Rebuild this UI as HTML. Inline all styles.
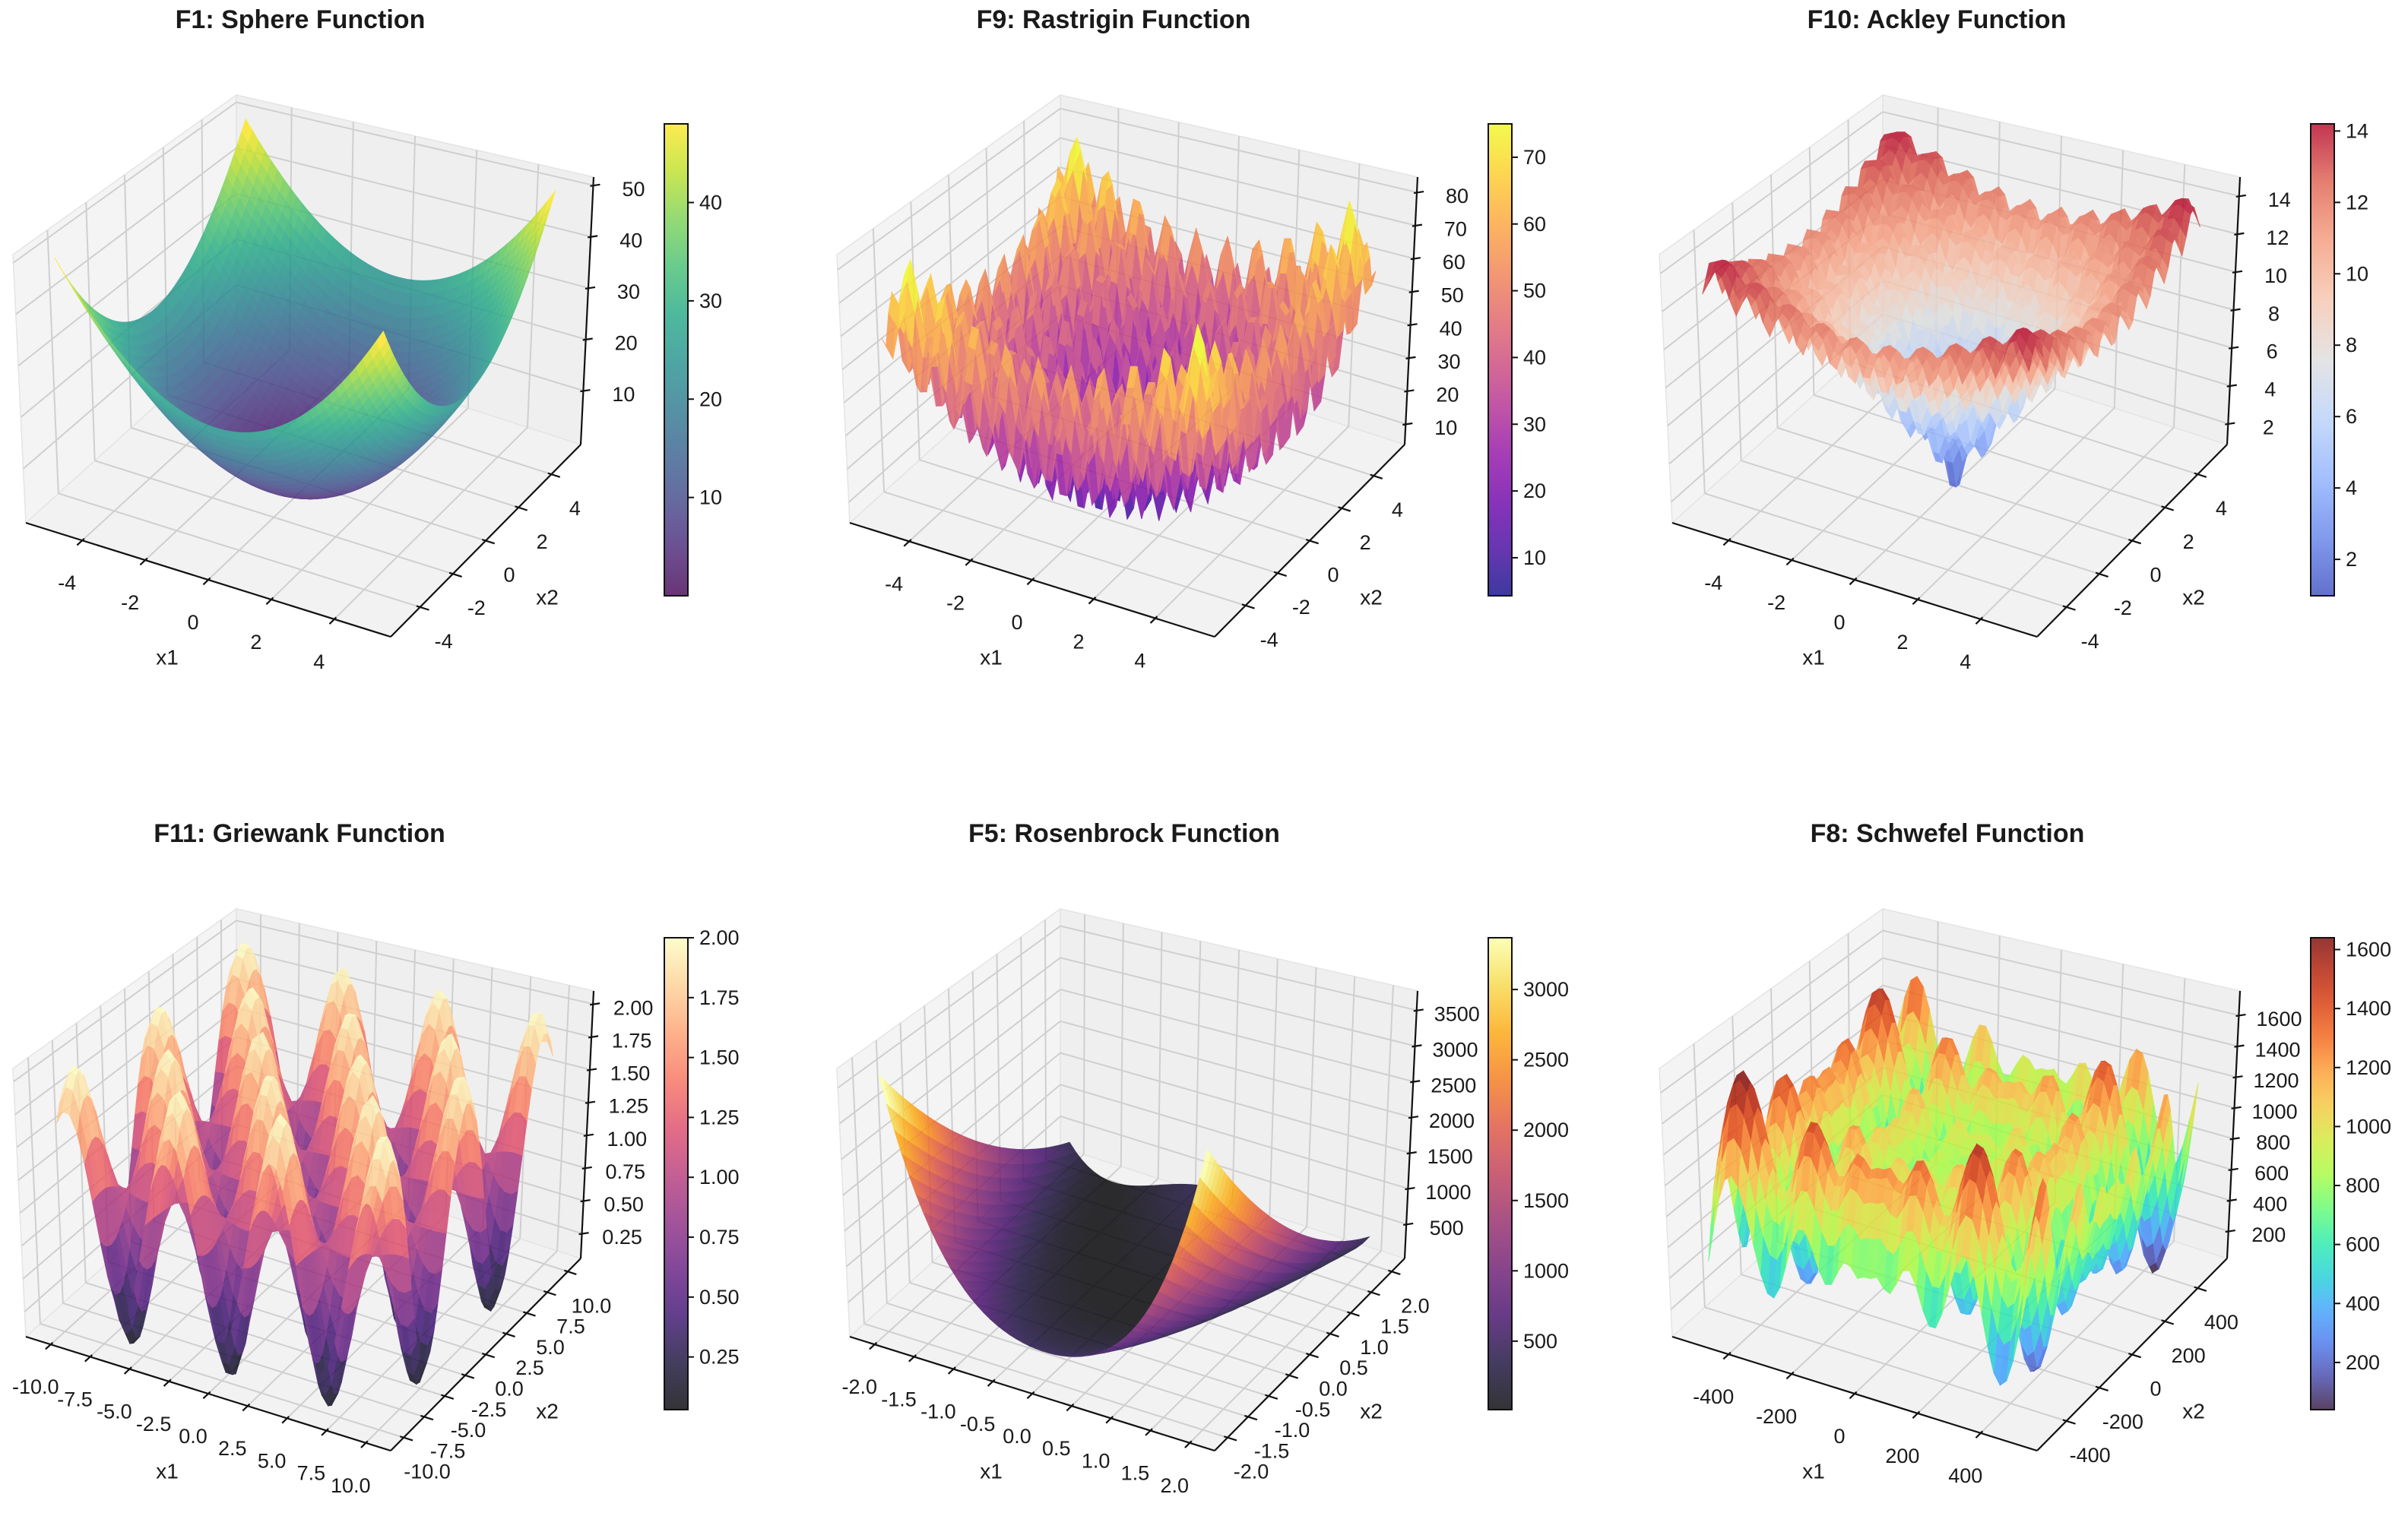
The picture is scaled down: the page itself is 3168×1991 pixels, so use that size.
<!DOCTYPE html>
<html><head><meta charset="utf-8"><style>
html,body{margin:0;padding:0;background:#fff;}
svg{display:block;font-family:"Liberation Sans",Arial,sans-serif;}
</style></head><body>
<svg id="fig" xmlns="http://www.w3.org/2000/svg" width="3168" height="1991" viewBox="0 0 3168 1991"></svg>
<script>
// ---- chart data (top-level arrays) ----
const panelTitles = ["F1: Sphere Function","F9: Rastrigin Function","F10: Ackley Function","F11: Griewank Function","F5: Rosenbrock Function","F8: Schwefel Function"];
const panelKeys = ["sphere","rastrigin","ackley","griewank","rosenbrock","schwefel"];
const xRanges = [[-5,5],[-5.12,5.12],[-5,5],[-10,10],[-2,2],[-500,500]];
const zLimits = [[-0.5,51.6],[3.8,84.6],[0.9,15.0],[0.06,2.10],[20,3771],[23,1758]];
const cLimits = [[0,48],[4.3,75],[0.98,14.2],[0.03,2.0],[13,3368],[40,1640]];
const xTicks1 = [-4,-2,0,2,4];
const xTicksG = [-10,-7.5,-5,-2.5,0,2.5,5,7.5,10];
const xTicksR = [-2,-1.5,-1,-0.5,0,0.5,1,1.5,2];
const xTicksS = [-400,-200,0,200,400];
const zTicksSphere = [10,20,30,40,50];
const zTicksRastrigin = [10,20,30,40,50,60,70,80];
const zTicksAckley = [2,4,6,8,10,12,14];
const zTicksGriewank = [0.25,0.5,0.75,1.0,1.25,1.5,1.75,2.0];
const zTicksRosen = [500,1000,1500,2000,2500,3000,3500];
const zTicksSchwefel = [200,400,600,800,1000,1200,1400,1600];
const cTicksSphere = [10,20,30,40];
const cTicksRastrigin = [10,20,30,40,50,60,70];
const cTicksAckley = [2,4,6,8,10,12,14];
const cTicksGriewank = [0.25,0.5,0.75,1.0,1.25,1.5,1.75,2.0];
const cTicksRosen = [500,1000,1500,2000,2500,3000];
const cTicksSchwefel = [200,400,600,800,1000,1200,1400,1600];

const funcs = {
  sphere:(x,y)=>x*x+y*y,
  rastrigin:(x,y)=>20+(x*x-10*Math.cos(2*Math.PI*x))+(y*y-10*Math.cos(2*Math.PI*y)),
  ackley:(x,y)=>-20*Math.exp(-0.2*Math.sqrt(0.5*(x*x+y*y)))-Math.exp(0.5*(Math.cos(2*Math.PI*x)+Math.cos(2*Math.PI*y)))+Math.E+20,
  griewank:(x,y)=>1+(x*x+y*y)/4000-Math.cos(x)*Math.cos(y/Math.SQRT2),
  rosenbrock:(x,y)=>100*(y-x*x)*(y-x*x)+(1-x)*(1-x),
  schwefel:(x,y)=>418.9829*2-x*Math.sin(Math.sqrt(Math.abs(x)))-y*Math.sin(Math.sqrt(Math.abs(y)))
};
const cmaps = {
 viridis:["#440154","#482475","#414487","#355f8d","#2a788e","#21918c","#22a884","#44bf70","#7ad151","#bddf26","#fde725"],
 plasma:["#0d0887","#41049d","#6a00a8","#8f0da4","#b12a90","#cc4778","#e16462","#f2844b","#fca636","#fcce25","#f0f921"],
 coolwarm:["#3b4cc0","#6282ea","#8db0fe","#b8d0f9","#dddddd","#f5c4ad","#f49a7b","#de604d","#b40426"],
 magma:["#000004","#140e36","#3b0f70","#641a80","#8c2981","#b73779","#de4968","#f7705c","#fe9f6d","#fecf92","#fcfdbf"],
 inferno:["#000004","#160b39","#420a68","#6a176e","#932667","#bc3754","#dd513a","#f37819","#fca50a","#f6d746","#fcffa4"],
 turbo:["#30123b","#4145ab","#4675ed","#39a2fc","#1bcfd4","#24eca6","#61fc6c","#a4fc3b","#d1e834","#f3c63a","#fe9b2d","#f36315","#d93806","#b11901","#7a0403"]
};
const panelCmaps = ["viridis","plasma","coolwarm","magma","inferno","turbo"];
const zTickSets = [zTicksSphere,zTicksRastrigin,zTicksAckley,zTicksGriewank,zTicksRosen,zTicksSchwefel];
const cTickSets = [cTicksSphere,cTicksRastrigin,cTicksAckley,cTicksGriewank,cTicksRosen,cTicksSchwefel];
const xTickSets = [xTicks1,xTicks1,xTicks1,xTicksG,xTicksR,xTicksS];
const titleX = [395,1465,2548,394,1479,2562];

// ---- layout ----
const colOff=[0,1084,2166], rowOff=[0,1071];
const C={"000":[34,688],"100":[514,838],"010":[311,438],"110":[764,585],"001":[17,335],"101":[521,446],"011":[311,125],"111":[781,233]};
const NS="http://www.w3.org/2000/svg";
const svg=document.getElementById("fig");
function P(u,v,w,ox,oy){
  const r=[0,0];
  for(let d=0;d<2;d++){
    const a=C["000"][d]*(1-u)+C["100"][d]*u, b=C["010"][d]*(1-u)+C["110"][d]*u;
    const c=C["001"][d]*(1-u)+C["101"][d]*u, e=C["011"][d]*(1-u)+C["111"][d]*u;
    const lo=a*(1-v)+b*v, hi=c*(1-v)+e*v;
    r[d]=lo*(1-w)+hi*w;
  }
  return [r[0]+ox,r[1]+oy];
}
function hex(h){return [parseInt(h.slice(1,3),16),parseInt(h.slice(3,5),16),parseInt(h.slice(5,7),16)];}
function cmap(name,t){
  const s=cmaps[name]; t=Math.max(0,Math.min(1,t));
  const f=t*(s.length-1), i=Math.min(Math.floor(f),s.length-2), k=f-i;
  const a=hex(s[i]),b=hex(s[i+1]);
  return "rgb("+a.map((v,j)=>Math.round(v+(b[j]-v)*k)).join(",")+")";
}
function make(tag,parent){const el=document.createElementNS(NS,tag);parent.appendChild(el);return el;}
function pts(arr){return arr.map(p=>p[0].toFixed(1)+","+p[1].toFixed(1)).join(" ");}
function fmt(k,v,kind){
  if(k===3) return kind==="x"? v.toFixed(1): v.toFixed(2);
  if(k===4 && kind==="x") return v.toFixed(1);
  return String(v);
}
const defs=make("defs",svg);

for(let k=0;k<6;k++){
  const ox=colOff[k%3], oy=rowOff[Math.floor(k/3)];
  const g=make("g",svg);
  
  
  const xr=xRanges[k], cx=(xr[0]+xr[1])/2, L=(xr[1]-xr[0])/2*1.158;
  const U=x=>(x-(cx-L))/(2*L);
  const zl=zLimits[k], W=z=>(z-zl[0])/(zl[1]-zl[0]);
  // panes
  const panes=[[[0,0,0],[1,0,0],[1,1,0],[0,1,0],"#f2f2f2"],[[0,0,0],[0,1,0],[0,1,1],[0,0,1],"#f4f4f4"],[[0,1,0],[1,1,0],[1,1,1],[0,1,1],"#efefef"]];
  panes.forEach((pn,i)=>{
    const el=make("polygon",g);
    
    
    el.setAttribute("points",pts(pn.slice(0,4).map(c=>P(c[0],c[1],c[2],ox,oy))));
    el.setAttribute("fill",pn[4]);
    el.setAttribute("stroke","#e4e4e4");
    el.setAttribute("stroke-width","1.5");
  });
  // grid lines
  const gl=make("g",g);
  
  
  gl.setAttribute("stroke","#cfcfcf"); gl.setAttribute("stroke-width","2"); gl.setAttribute("fill","none");
  function line(a,b,par){const el=make("line",par);el.setAttribute("x1",a[0]);el.setAttribute("y1",a[1]);el.setAttribute("x2",b[0]);el.setAttribute("y2",b[1]);return el;}
  xTickSets[k].forEach(t=>{
    const u=U(t);
    line(P(u,0,0,ox,oy),P(u,1,0,ox,oy),gl);
    line(P(u,1,0,ox,oy),P(u,1,1,ox,oy),gl);
    line(P(0,u,0,ox,oy),P(1,u,0,ox,oy),gl);
    line(P(0,u,0,ox,oy),P(0,u,1,ox,oy),gl);
  });
  zTickSets[k].forEach(t=>{
    const w=W(t);
    line(P(0,0,w,ox,oy),P(0,1,w,ox,oy),gl);
    line(P(0,1,w,ox,oy),P(1,1,w,ox,oy),gl);
  });
  // surface
  const sg=make("g",g);
  
  
  sg.setAttribute("opacity","0.82");
  const N=50, f=funcs[panelKeys[k]], cl=cLimits[k];
  const xs=[],Z=[];
  for(let i=0;i<N;i++) xs.push(xr[0]+(xr[1]-xr[0])*i/(N-1));
  for(let i=0;i<N;i++){Z.push([]);for(let j=0;j<N;j++) Z[i].push(f(xs[i],xs[j]));}
  const quads=[];
  for(let i=0;i<N-1;i++)for(let j=0;j<N-1;j++){
    const za=(Z[i][j]+Z[i+1][j]+Z[i+1][j+1]+Z[i][j+1])/4;
    const uc=U((xs[i]+xs[i+1])/2), vc=U((xs[j]+xs[j+1])/2);
    quads.push({i,j,za,d:1.732*uc-3*vc+1.5*W(za)});
  }
  quads.sort((a,b)=>a.d-b.d);
  quads.forEach(q=>{
    const {i,j}=q;
    const c=[[i,j],[i+1,j],[i+1,j+1],[i,j+1]].map(([a,b])=>P(U(xs[a]),U(xs[b]),W(Z[a][b]),ox,oy));
    const col=cmap(panelCmaps[k],(q.za-cl[0])/(cl[1]-cl[0]));
    const el=make("polygon",sg);
    
    
    el.setAttribute("points",pts(c));
    el.setAttribute("fill",col);
    el.setAttribute("stroke",col);
    el.setAttribute("stroke-width","0.8");
  });
  // axes
  const ag=make("g",g);
  
  
  ag.setAttribute("stroke","#111"); ag.setAttribute("stroke-width","2.2");
  line(P(0,0,0,ox,oy),P(1,0,0,ox,oy),ag);
  line(P(1,0,0,ox,oy),P(1,1,0,ox,oy),ag);
  line(P(1,1,0,ox,oy),P(1,1,1,ox,oy),ag);
  function text(x,y,s,size,par,anchor,weight){
    const el=make("text",par);el.setAttribute("x",x);el.setAttribute("y",y);
    el.setAttribute("font-size",size);el.setAttribute("text-anchor",anchor||"middle");
    el.setAttribute("dominant-baseline","central");el.setAttribute("fill","#1a1a1a");
    if(weight)el.setAttribute("font-weight",weight);
    el.textContent=s;return el;
  }
  xTickSets[k].forEach(t=>{
    const u=U(t);
    const a=P(u,-0.025,0,ox,oy),b=P(u,0.01,0,ox,oy);
    line(a,b,ag);
    const p=P(u,0,0,ox,oy);
    const tx=text(p[0]-20,p[1]+56,fmt(k,t,"x"),27,g);
    
    
    const a2=P(1.025,u,0,ox,oy),b2=P(0.99,u,0,ox,oy);
    line(a2,b2,ag);
    const p2=P(1,u,0,ox,oy);
    const ty=text(p2[0]+31,p2[1]+45,fmt(k,t,"x"),27,g);
    
    
  });
  zTickSets[k].forEach(t=>{
    const p=P(1,1,W(t),ox,oy);
    line([p[0]-4,p[1]+1],[p[0]+9,p[1]-1],ag);
    const tz=text(p[0]+53,p[1]+5,fmt(k,t,"z"),27,g);
    
    
  });
  const t1=text(220+ox,865+oy,"x1",28,g);
  
  
  const t2=text(720+ox,786+oy,"x2",28,g);
  
  
  const tt=text(titleX[k],26+oy,panelTitles[k],34,g,"middle","bold");
  
  
  // colorbar
  const gid="grad"+k, lg=make("linearGradient",defs);
  lg.setAttribute("id",gid);lg.setAttribute("x1","0");lg.setAttribute("y1","1");lg.setAttribute("x2","0");lg.setAttribute("y2","0");
  for(let s=0;s<=40;s++){const st=make("stop",lg);st.setAttribute("offset",(s/40).toFixed(3));st.setAttribute("stop-color",cmap(panelCmaps[k],s/40));}
  const cb=make("g",g);
  
  
  const cbx=874+ox, cby=163+oy, cbw=31, cbh=621;
  const r=make("rect",cb);
  
  
  r.setAttribute("x",cbx);r.setAttribute("y",cby);r.setAttribute("width",cbw);r.setAttribute("height",cbh);
  r.setAttribute("fill","url(#"+gid+")");r.setAttribute("opacity","0.8");
  const ro=make("rect",cb);
  
  
  ro.setAttribute("x",cbx);ro.setAttribute("y",cby);ro.setAttribute("width",cbw);ro.setAttribute("height",cbh);
  ro.setAttribute("fill","none");ro.setAttribute("stroke","#111");ro.setAttribute("stroke-width","2");
  cTickSets[k].forEach(t=>{
    const y=cby+cbh-(t-cl[0])/(cl[1]-cl[0])*cbh;
    const tl=line([cbx+cbw,y],[cbx+cbw+8,y],cb);
    tl.setAttribute("stroke","#111");tl.setAttribute("stroke-width","2");
    
    const ct=text(cbx+cbw+15,y,fmt(k,t,"c"),27,cb,"start");
    
    
  });
}
</script>
</body></html>
